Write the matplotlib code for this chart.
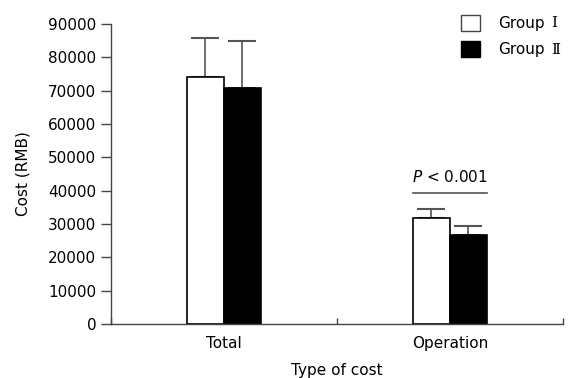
import matplotlib
matplotlib.use("Agg")
import matplotlib.pyplot as plt
import numpy as np
from matplotlib.patches import Patch

categories = ["Total", "Operation"]
group1 = [74000, 31700]
group1_err = [11900, 2700]
group2 = [70900, 26700]
group2_err = [14100, 2600]
series_names = ["Group", "Group"]
series_numerals = ["\u2160", "\u2161"]
yticks = [0, 10000, 20000, 30000, 40000, 50000, 60000, 70000, 80000, 90000]

plt.rcParams['font.family'] = ['DejaVu Sans', 'Noto Sans CJK SC']
plt.rcParams['mathtext.fontset'] = 'dejavusans'

fig = plt.figure(figsize=(5.69, 3.78), dpi=100)
ax = fig.add_axes([0.195, 0.1429, 0.794, 0.7937])

x = np.arange(len(categories))
w = 0.164
ekw = dict(ecolor='#555555', elinewidth=1.2, capsize=10, capthick=1.5, zorder=1)
ax.bar(x - w/2, group1, w, color='white', edgecolor='black', linewidth=1.2,
       yerr=[np.zeros(2), group1_err], error_kw=ekw, zorder=2)
ax.bar(x + w/2, group2, w, color='black', edgecolor='black', linewidth=1.2,
       yerr=[np.zeros(2), group2_err], error_kw=ekw, zorder=2)

ax.set_xlim(-0.5, 1.5)
ax.set_ylim(0, 90000)
ax.set_yticks(yticks)
ax.set_yticklabels([str(v) for v in yticks], fontsize=11)
ax.tick_params(axis='y', direction='out', length=7, width=1, color='#444444')

ax.set_xticks([-0.5, 0.5, 1.5])
ax.set_xticklabels([])
ax.tick_params(axis='x', which='major', direction='in', length=4, width=1, color='#444444')
ax.set_xticks(x, minor=True)
ax.set_xticklabels(categories, minor=True, fontsize=11)
ax.tick_params(axis='x', which='minor', length=0, pad=9)

for s in ['top', 'right']:
    ax.spines[s].set_visible(False)
for s in ['left', 'bottom']:
    ax.spines[s].set_color('#444444')
    ax.spines[s].set_linewidth(1)

ax.set_ylabel("Cost (RMB)", fontsize=11, labelpad=13)
ax.set_xlabel("Type of cost", fontsize=11, labelpad=8)

# significance
ax.plot([1 - w, 1 + w], [39400, 39400], color='#555555', linewidth=1.2)
ax.text(1, 41800, "$P$ < 0.001", ha='center', va='bottom', fontsize=11)

handles = [Patch(facecolor='white', edgecolor='#444444', linewidth=1),
           Patch(facecolor='black', edgecolor='black', linewidth=1)]
leg = fig.legend(handles, series_names, loc='upper left',
                 bbox_to_anchor=(461/569, 1 - 14.5/378), frameon=False, fontsize=11,
                 handlelength=1.25, handleheight=1.25, handletextpad=1.15,
                 labelspacing=0.68, borderpad=0, borderaxespad=0)

fig.canvas.draw()
renderer = fig.canvas.get_renderer()
for t, num in zip(leg.get_texts(), series_numerals):
    bb = t.get_window_extent(renderer)
    fig.text((bb.x1 + 7) / fig.bbox.width, (bb.y0 + bb.y1) / 2 / fig.bbox.height, num,
             family=['DejaVu Serif', 'Noto Sans CJK SC'], fontsize=11, va='center', ha='left')

fig.savefig("out.png", dpi=100)
